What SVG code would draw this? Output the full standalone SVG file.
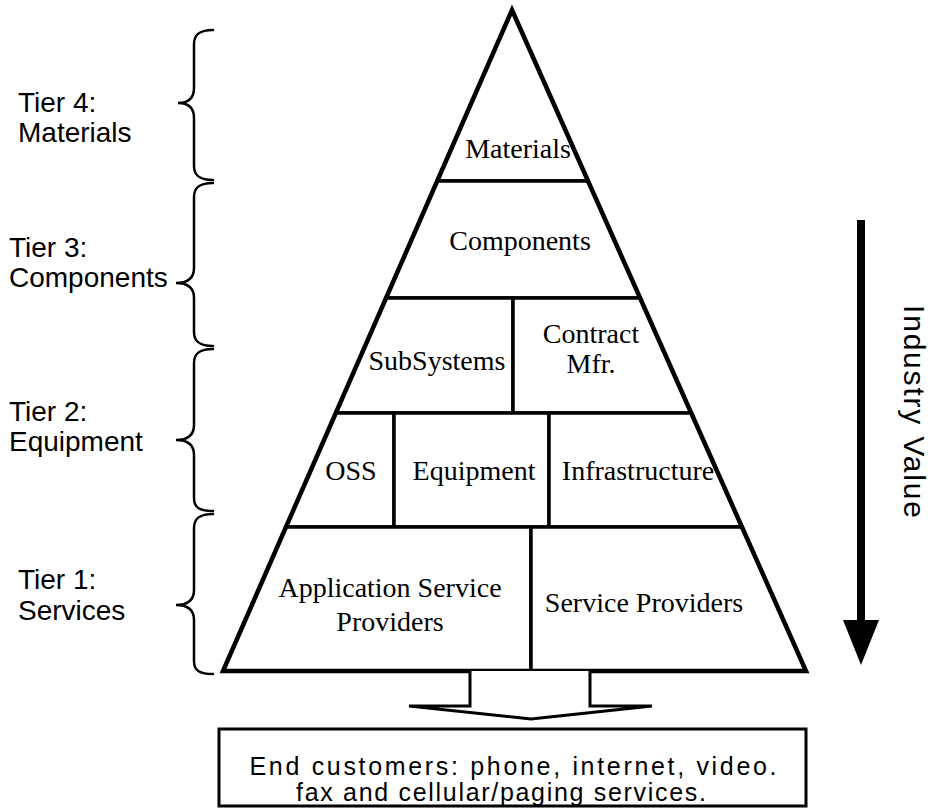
<svg xmlns="http://www.w3.org/2000/svg" width="932" height="809" viewBox="0 0 932 809">
  <style>
    .cell { fill: #fff; stroke: #000; stroke-width: 3.5; stroke-linejoin: miter; }
    .outline { fill: none; stroke: #000; stroke-width: 4.5; stroke-linejoin: miter; }
    .brace { fill: none; stroke: #000; stroke-width: 2.5; stroke-linecap: round; }
    .tier { font-family: "Liberation Sans", Arial, sans-serif; font-size: 28px; fill: #000; }
    .seg { font-family: "Liberation Serif", "Times New Roman", serif; font-size: 28px; fill: #000; text-anchor: middle; }
    .note { font-family: "Liberation Sans", Arial, sans-serif; font-size: 25px; fill: #000; text-anchor: middle; }
    .value { font-family: "Liberation Sans", Arial, sans-serif; font-size: 30px; fill: #000; }
  </style>

  <rect width="932" height="809" fill="#fff"/>

  <!-- Tier labels with braces -->
  <g id="tier4">
    <path class="brace" d="M213 30 C200 30 194 34 194 44 L194 88 C194 98 188 103 178 103 C188 103 194 108 194 118 L194 166 C194 176 200 180 213 180"/>
    <text class="tier" x="18" y="112">Tier 4:</text>
    <text class="tier" x="18" y="142">Materials</text>
  </g>
  <g id="tier3">
    <path class="brace" d="M213 183 C200 183 194 187 194 197 L194 268 C194 278 188 283 176 283 C188 283 194 288 194 298 L194 332 C194 342 200 346 213 346"/>
    <text class="tier" x="9" y="257">Tier 3:</text>
    <text class="tier" x="9" y="287">Components</text>
  </g>
  <g id="tier2">
    <path class="brace" d="M213 349 C200 349 194 353 194 363 L194 425 C194 435 188 440 176 440 C188 440 194 445 194 455 L194 498 C194 508 200 511 213 511"/>
    <text class="tier" x="9" y="421">Tier 2:</text>
    <text class="tier" x="9" y="451">Equipment</text>
  </g>
  <g id="tier1">
    <path class="brace" d="M213 514 C200 514 194 518 194 528 L194 590 C194 600 188 605 176 605 C188 605 194 610 194 620 L194 661 C194 671 200 674 213 674"/>
    <text class="tier" x="18" y="589">Tier 1:</text>
    <text class="tier" x="18" y="620">Services</text>
  </g>

  <!-- Pyramid segments -->
  <g id="materials">
    <polygon class="cell" points="512,10 588,181 437,181"/>
    <text class="seg" x="518" y="158">Materials</text>
  </g>
  <g id="components">
    <polygon class="cell" points="437,181 588,181 640,298 386,298"/>
    <text class="seg" x="520" y="250">Components</text>
  </g>
  <g id="subsystems">
    <polygon class="cell" points="386,298 513,298 513,413 336,413"/>
    <text class="seg" x="437" y="370">SubSystems</text>
  </g>
  <g id="contract-mfr">
    <polygon class="cell" points="513,298 640,298 691,413 513,413"/>
    <text class="seg" x="591" y="343">Contract</text>
    <text class="seg" x="591" y="373">Mfr.</text>
  </g>
  <g id="oss">
    <polygon class="cell" points="336,413 394,413 394,527 286,527"/>
    <text class="seg" x="351" y="480">OSS</text>
  </g>
  <g id="equipment">
    <polygon class="cell" points="394,413 549,413 549,527 394,527"/>
    <text class="seg" x="474" y="480">Equipment</text>
  </g>
  <g id="infrastructure">
    <polygon class="cell" points="549,413 691,413 742,527 549,527"/>
    <text class="seg" x="638" y="480">Infrastructure</text>
  </g>
  <g id="app-service-providers">
    <polygon class="cell" points="286,527 531,527 531,671 223,671"/>
    <text class="seg" x="390" y="597">Application Service</text>
    <text class="seg" x="390" y="631">Providers</text>
  </g>
  <g id="service-providers">
    <polygon class="cell" points="531,527 742,527 806,671 531,671"/>
    <text class="seg" x="644" y="612">Service Providers</text>
  </g>
  <polygon class="outline" points="512,10 806,671 223,671"/>

  <!-- End customer box -->
  <g id="end-customers">
    <rect x="219" y="729" width="587" height="77" fill="#fff" stroke="#000" stroke-width="3"/>
    <text class="note" x="513" y="775" textLength="527" lengthAdjust="spacing">End customers: phone, internet, video.</text>
    <text class="note" x="501" y="801" textLength="410" lengthAdjust="spacing">fax and cellular/paging services.</text>
  </g>

  <!-- Connectors -->
  <g id="connectors">
    <path d="M470 671 V706 H409 L531 719 L652 706 H590 V671" fill="#fff" stroke="#000" stroke-width="3" stroke-linejoin="miter"/>
    <g id="industry-value">
      <rect x="857" y="220" width="8" height="402" fill="#000"/>
      <polygon points="843,620 879,620 861,665" fill="#000"/>
      <text class="value" transform="translate(904,305) rotate(90)" textLength="213" lengthAdjust="spacing">Industry Value</text>
    </g>
  </g>
</svg>
